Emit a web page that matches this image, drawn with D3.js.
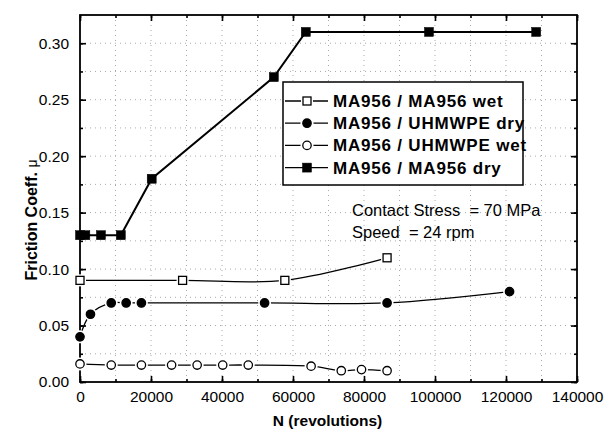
<!DOCTYPE html>
<html>
<head>
<meta charset="utf-8">
<script src="https://cdn.jsdelivr.net/npm/d3@7"></script>
<style>
  body { margin: 0; background: #fff; }
  text { font-family: "Liberation Sans", Arial, sans-serif; fill: #000; }
</style>
</head>
<body>
<div id="wrapper"></div>
<script>
// data
const wetSquareN = [0, 28900, 57700, 86500];
const wetSquareMu = [0.090, 0.090, 0.090, 0.110];

const dryCircleN = [0, 2950, 8800, 13000, 17300, 52000, 86500, 121000];
const dryCircleMu = [0.040, 0.060, 0.070, 0.070, 0.070, 0.070, 0.070, 0.080];

const wetCircleN = [0, 8800, 17300, 25800, 33000, 40200, 47400, 65100, 73600, 79300, 86500];
const wetCircleMu = [0.016, 0.015, 0.015, 0.015, 0.015, 0.015, 0.015, 0.014, 0.010, 0.011, 0.010];

const drySquareN = [0, 1500, 5900, 11500, 20200, 54600, 63600, 98300, 128500];
const drySquareMu = [0.13, 0.13, 0.13, 0.13, 0.18, 0.27, 0.31, 0.31, 0.31];

const seriesNames = ["MA956 / MA956 wet", "MA956 / UHMWPE dry", "MA956 / UHMWPE wet", "MA956 / MA956 dry"];
const xTicks = [0, 20000, 40000, 60000, 80000, 100000, 120000, 140000];
const yTicks = [0, 0.05, 0.10, 0.15, 0.20, 0.25, 0.30];

const width = 611;
const height = 437;
const margin = {top: 15, right: 34, bottom: 55, left: 80};
const boundedWidth = width - margin.left - margin.right;
const boundedHeight = height - margin.top - margin.bottom;

const svg = d3.select("#wrapper")
    .append("svg")
    .attr("width", width)
    .attr("height", height);

const bounds = svg.append("g")
    .attr("transform", `translate(${margin.left},${margin.top})`);

const xScale = d3.scaleLinear()
    .domain([0, 140000])
    .range([0, boundedWidth]);

const yScale = d3.scaleLinear()
    .domain([0, 0.325])
    .range([boundedHeight, 0]);

const xMinor = d3.range(0, 140001, 10000);
const yMinor = d3.range(0, 13).map(i => i * 0.025);

// dotted grid
bounds.append("g")
    .selectAll("line")
    .data(xMinor.slice(1, -1))
    .join("line")
    .attr("x1", d => xScale(d)).attr("x2", d => xScale(d))
    .attr("y1", 0).attr("y2", boundedHeight)
    .attr("stroke", "#aaa").attr("stroke-width", 1)
    .attr("stroke-dasharray", "1,4");
bounds.append("g")
    .selectAll("line")
    .data(yMinor.slice(1))
    .join("line")
    .attr("y1", d => yScale(d)).attr("y2", d => yScale(d))
    .attr("x1", 0).attr("x2", boundedWidth)
    .attr("stroke", "#aaa").attr("stroke-width", 1)
    .attr("stroke-dasharray", "1,4");

// axes with inward ticks
function styleAxis(g) {
    g.select(".domain").remove();
    g.selectAll("line").attr("stroke", "#000").attr("stroke-width", 1.6);
    g.selectAll("text").style("font-size", "15.5px");
}

bounds.append("g")
    .attr("transform", `translate(0,${boundedHeight})`)
    .call(d3.axisBottom(xScale).tickValues(xMinor).tickSize(-3).tickFormat(""))
    .call(styleAxis);
bounds.append("g")
    .attr("transform", `translate(0,${boundedHeight})`)
    .call(d3.axisBottom(xScale).tickValues(xTicks).tickSize(-6).tickPadding(9).tickFormat(d3.format("d")))
    .call(styleAxis);
bounds.append("g")
    .call(d3.axisTop(xScale).tickValues(xMinor).tickSize(-3).tickFormat(""))
    .call(styleAxis);
bounds.append("g")
    .call(d3.axisTop(xScale).tickValues(xTicks).tickSize(-6).tickFormat(""))
    .call(styleAxis);

bounds.append("g")
    .call(d3.axisLeft(yScale).tickValues(yMinor).tickSize(-3).tickFormat(""))
    .call(styleAxis);
bounds.append("g")
    .call(d3.axisLeft(yScale).tickValues(yTicks).tickSize(-6).tickPadding(11).tickFormat(d3.format(".2f")))
    .call(styleAxis);
bounds.append("g")
    .attr("transform", `translate(${boundedWidth},0)`)
    .call(d3.axisRight(yScale).tickValues(yMinor).tickSize(-3).tickFormat(""))
    .call(styleAxis);
bounds.append("g")
    .attr("transform", `translate(${boundedWidth},0)`)
    .call(d3.axisRight(yScale).tickValues(yTicks).tickSize(-6).tickFormat(""))
    .call(styleAxis);

// frame
bounds.append("rect")
    .attr("width", boundedWidth)
    .attr("height", boundedHeight)
    .attr("fill", "none")
    .attr("stroke", "#000")
    .attr("stroke-width", 1.8);

// curves
const smoothLine = d3.line()
    .x(d => xScale(d[0]))
    .y(d => yScale(d[1]))
    .curve(d3.curveCatmullRom.alpha(0.5));
const straightLine = d3.line()
    .x(d => xScale(d[0]))
    .y(d => yScale(d[1]));

const zip = (a, b) => a.map((v, i) => [v, b[i]]);
const wetSquare = zip(wetSquareN, wetSquareMu);
const dryCircle = zip(dryCircleN, dryCircleMu);
const wetCircle = zip(wetCircleN, wetCircleMu);
const drySquare = zip(drySquareN, drySquareMu);

[wetSquare, dryCircle, wetCircle].forEach(data => {
    bounds.append("path")
        .attr("d", smoothLine(data))
        .attr("fill", "none")
        .attr("stroke", "#000")
        .attr("stroke-width", 1.3);
});
bounds.append("path")
    .attr("d", straightLine(drySquare))
    .attr("fill", "none")
    .attr("stroke", "#000")
    .attr("stroke-width", 2);

// markers
function drawMarker(g, kind, x, y, halo) {
    if (kind === "circle" || kind === "openCircle") {
        if (halo) g.append("circle").attr("cx", x).attr("cy", y).attr("r", 6.5).attr("fill", "#fff");
        g.append("circle").attr("cx", x).attr("cy", y).attr("r", 4.2)
            .attr("fill", kind === "circle" ? "#000" : "#fff")
            .attr("stroke", "#000").attr("stroke-width", 1.3);
    } else {
        const s = kind === "square" ? 9 : 8;
        if (halo) g.append("rect").attr("x", x - s / 2 - 2).attr("y", y - s / 2 - 2).attr("width", s + 4).attr("height", s + 4).attr("fill", "#fff");
        g.append("rect").attr("x", x - s / 2).attr("y", y - s / 2).attr("width", s).attr("height", s)
            .attr("fill", kind === "square" ? "#000" : "#fff")
            .attr("stroke", "#000").attr("stroke-width", kind === "square" ? 0.5 : 1.3);
    }
}

const markerGroup = bounds.append("g");
wetSquare.forEach(d => drawMarker(markerGroup, "openSquare", xScale(d[0]), yScale(d[1]), true));
dryCircle.forEach(d => drawMarker(markerGroup, "circle", xScale(d[0]), yScale(d[1]), true));
wetCircle.forEach(d => drawMarker(markerGroup, "openCircle", xScale(d[0]), yScale(d[1]), true));
drySquare.forEach(d => drawMarker(markerGroup, "square", xScale(d[0]), yScale(d[1]), false));

// legend
const legend = svg.append("g").attr("transform", "translate(283,82)");
legend.append("rect")
    .attr("width", 240).attr("height", 103)
    .attr("fill", "#fff").attr("stroke", "#000").attr("stroke-width", 1.5);
const kinds = ["openSquare", "circle", "openCircle", "square"];
seriesNames.forEach((name, i) => {
    const cy = 19 + i * 22.2;
    legend.append("line")
        .attr("x1", 2).attr("x2", 45).attr("y1", cy).attr("y2", cy)
        .attr("stroke", "#000").attr("stroke-width", 1.3);
    drawMarker(legend, kinds[i], 24, cy, kinds[i] !== "square");
    legend.append("text")
        .attr("x", 50).attr("y", cy + 6)
        .style("font-size", "17px").style("font-weight", "bold")
        .style("letter-spacing", "0.8px")
        .text(name);
});

// annotation
svg.append("text")
    .attr("x", 352).attr("y", 216)
    .style("font-size", "16.5px").style("white-space", "pre")
    .text("Contact Stress  = 70 MPa");
svg.append("text")
    .attr("x", 352).attr("y", 238)
    .style("font-size", "16.5px").style("white-space", "pre")
    .text("Speed  = 24 rpm");

// axis titles
svg.append("text")
    .attr("x", margin.left + boundedWidth / 2 - 1)
    .attr("y", 426)
    .attr("text-anchor", "middle")
    .style("font-size", "15.5px").style("font-weight", "bold")
    .text("N (revolutions)");

const yTitle = svg.append("text")
    .attr("transform", "translate(37,220) rotate(-90)")
    .attr("text-anchor", "middle")
    .style("font-size", "16px").style("font-weight", "bold");
yTitle.append("tspan").text("Friction Coeff. ");
yTitle.append("tspan").style("font-weight", "normal").style("font-size", "14px").text("μ");
</script>
</body>
</html>
